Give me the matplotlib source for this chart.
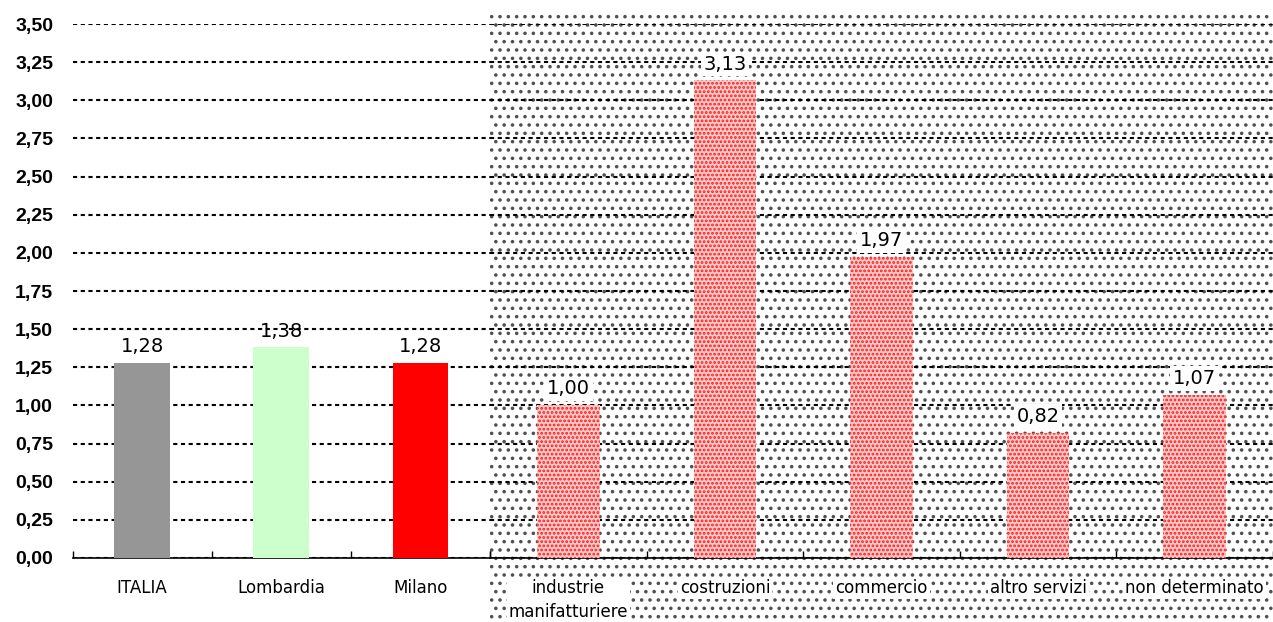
import matplotlib.pyplot as plt
from matplotlib.patches import Rectangle
from matplotlib.ticker import MultipleLocator, FuncFormatter

# territori (left block) and settori (right block)
territori = ["ITALIA", "Lombardia", "Milano"]
valori_territori = [1.28, 1.38, 1.28]
colori_territori = ["#969696", "#ccffcc", "#ff0000"]

settori = ["industrie\nmanifatturiere", "costruzioni", "commercio",
           "altro servizi", "non determinato"]
valori_settori = [1.00, 3.13, 1.97, 0.82, 1.07]

plt.rcParams["font.family"] = ["DejaVu Sans"]
plt.rcParams["hatch.linewidth"] = 1.35

fig = plt.figure(figsize=(12.73, 6.22), dpi=100)
fig.patch.set_facecolor("white")

# dotted background behind the sector block
bg = Rectangle((0.385, 0.0), 0.615, 0.982, transform=fig.transFigure,
               facecolor="white", edgecolor="#505050", linewidth=0,
               hatch="..", zorder=-1)
fig.add_artist(bg)

bottom, height = 0.1029, 0.8585
ax1 = fig.add_axes([0.057, bottom, 0.328, height])
ax2 = fig.add_axes([0.385, bottom, 0.615, height], sharey=ax1)
ax2.set_facecolor("none")

fmt = FuncFormatter(lambda v, p: f"{v:.2f}".replace(".", ","))


def style(ax, n):
    ax.set_xlim(-0.5, n - 0.5)
    ax.set_ylim(0, 3.5)
    ax.yaxis.set_major_locator(MultipleLocator(0.25))
    ax.yaxis.grid(True, color="black", linestyle=(0, (2, 1.7)), linewidth=1.5)
    ax.set_axisbelow(True)
    for s in ["top", "right", "left"]:
        ax.spines[s].set_visible(False)
    ax.spines["bottom"].set_linewidth(1.2)
    ax.set_xticks(range(n))
    ax.set_xticks([i + 0.5 for i in range(-1, n)], minor=True)
    ax.tick_params(axis="x", which="major", length=0, pad=15, labelsize=12)
    ax.tick_params(axis="x", which="minor", direction="in", length=5, width=1)
    ax.tick_params(axis="y", length=0)


style(ax1, len(territori))
style(ax2, len(settori))

ax1.yaxis.set_major_formatter(fmt)
ax1.tick_params(axis="y", pad=14)
for lab in ax1.get_yticklabels():
    lab.set_fontfamily("Liberation Sans")
    lab.set_fontweight("bold")
    lab.set_fontsize(14)
ax2.tick_params(axis="y", labelleft=False)

ax1.bar(range(len(territori)), valori_territori, width=0.4,
        color=colori_territori, zorder=3)
ax2.bar(range(len(settori)), valori_settori, width=0.4,
        facecolor="#ffcccc", edgecolor="#ff1a1a", linewidth=0,
        hatch="....", zorder=3)

ax1.set_xticklabels(territori)
ax2.set_xticklabels(settori, va="top", linespacing=1.45)
for lab in ax2.get_xticklabels():
    lab.set_bbox(dict(facecolor="white", edgecolor="none", pad=1.5))

for x, v in zip(range(len(territori)), valori_territori):
    ax1.annotate(f"{v:.2f}".replace(".", ","), (x, v), xytext=(0, 5),
                 textcoords="offset points", ha="center", va="bottom",
                 fontsize=14, zorder=4)
for x, v in zip(range(len(settori)), valori_settori):
    ax2.annotate(f"{v:.2f}".replace(".", ","), (x, v), xytext=(0, 5),
                 textcoords="offset points", ha="center", va="bottom",
                 fontsize=14, zorder=4,
                 bbox=dict(facecolor="white", edgecolor="none", pad=2))

fig.savefig("out.png", dpi=100)
